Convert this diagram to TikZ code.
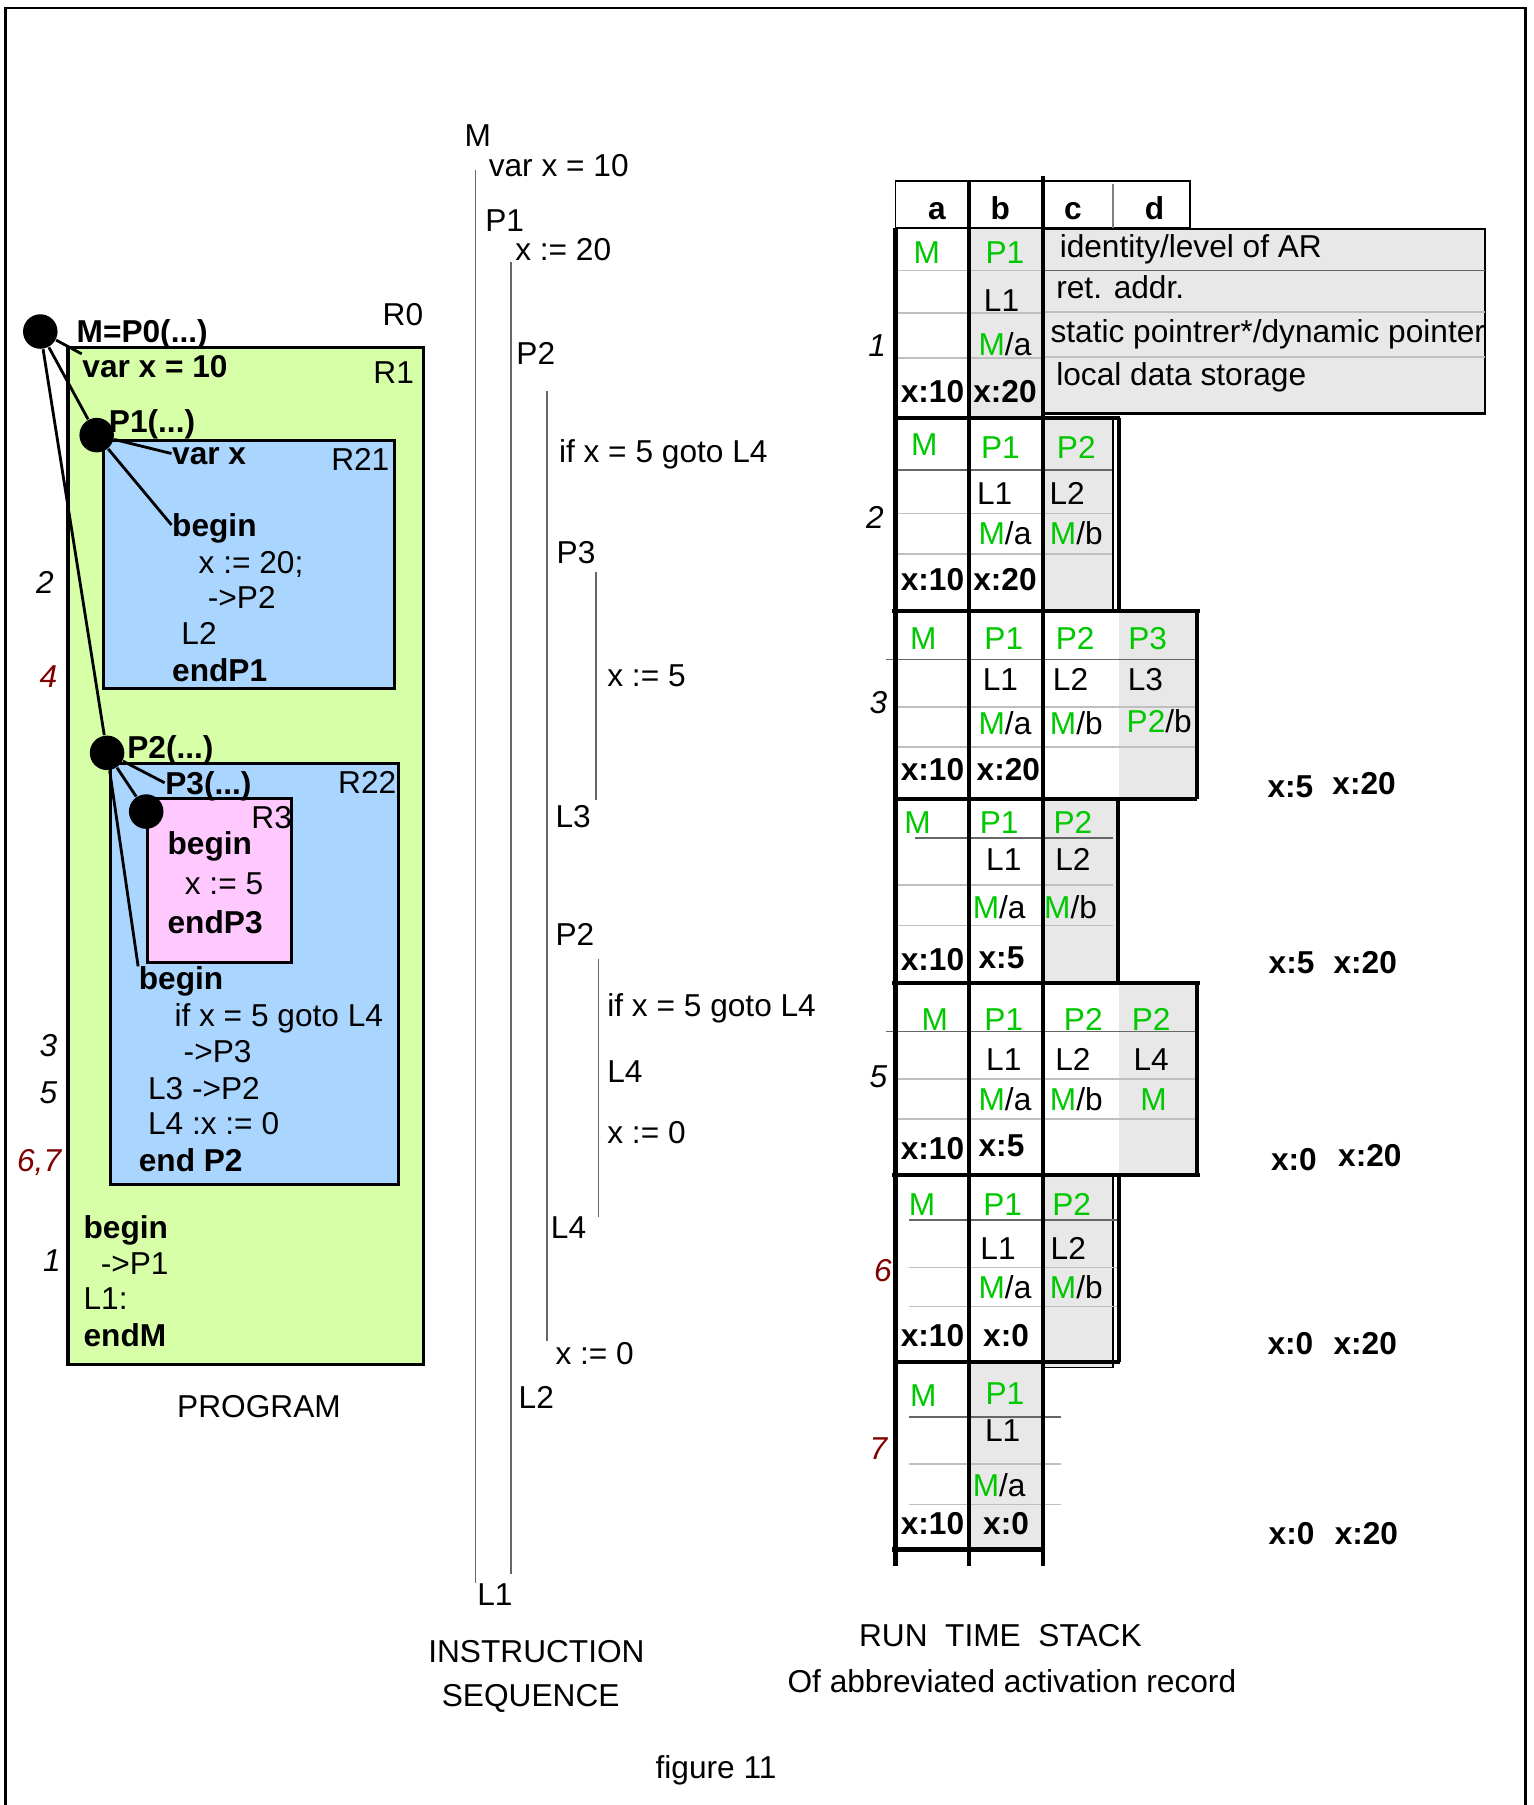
\documentclass[tikz,border=0pt]{standalone}
\usepackage{fontspec}
\setmainfont{Liberation Sans}
\usepackage{xcolor}
\usepackage{tikz}
\usetikzlibrary{positioning}
\definecolor{progreen}{RGB}{214, 255, 168}
\definecolor{problue}{RGB}{170, 213, 255}
\definecolor{propink}{RGB}{255, 200, 255}
\definecolor{argreen}{RGB}{0, 200, 0}
\definecolor{argray}{RGB}{232, 232, 232}
\definecolor{stepred}{RGB}{128, 0, 0}

\begin{document}
\begin{tikzpicture}[
  x=0.0115cm, y=-0.0115cm,
  font=\fontsize{9}{11}\selectfont,
  txt/.style={anchor=west, inner sep=0pt, text height=6.5pt, text depth=0pt},
  kw/.style={txt, font=\fontsize{9}{11}\selectfont\bfseries},
  arcell/.style={inner sep=0pt, text height=6.5pt, text depth=0pt},
  gr/.style={arcell, text=argreen},
  val/.style={arcell, font=\fontsize{9}{11}\selectfont\bfseries},
  stepno/.style={arcell, font=\fontsize{9}{11}\selectfont\itshape},
  procdot/.style={circle, fill=black, inner sep=0pt, minimum size=0.345cm},
  region/.style={draw, line width=0.9pt},
  link/.style={line width=0.8pt},
  seqline/.style={line width=0.5pt, black!60},
  recline/.style={line width=1.2pt},
  rowline/.style={line width=0.5pt, black!25},
  rowfirst/.style={line width=0.5pt, black!60}
]
\useasboundingbox (0,0) rectangle (1332,1568);
\draw[line width=0.8pt] (5,1568) -- (5,7) -- (1325,7) -- (1325,1568);

% program
\draw[region, fill=progreen] (59,302) rectangle (368,1185);
\draw[region, fill=problue] (90,383) rectangle (343,598);
\draw[region, fill=problue] (96,663) rectangle (346,1029);
\draw[region, fill=propink] (128,694) rectangle (253,836);

\node[arcell] (r0) at (350,273) {R0};
\node[arcell] (r1) at (342,323) {R1};
\node[arcell] (r21) at (313,399) {R21};
\node[arcell] (r22) at (319,679) {R22};
\node[arcell] (r3) at (236,710) {R3};

\node[kw] (mhead) at (66,288) {M=P0(...)};
\node[kw] (mvar) at (71,318) {var x = 10};
\node[kw] (p1head) at (94,366) {P1(...)};
\node[kw] (p1var) at (149,394) {var x};
\node[kw] (p1begin) at (149,456) {begin};
\node[txt] (p1x) at (172,488) {x := 20;};
\node[txt] (p1call) at (180,519) {->P2};
\node[txt] (p1l2) at (157,550) {L2};
\node[kw] (p1end) at (149,582) {endP1};

\node[kw] (p2head) at (110,649) {P2(...)};
\node[kw] (p3head) at (143,680) {P3(...)};
\node[kw] (p3begin) at (145,732) {begin};
\node[txt] (p3x) at (160,767) {x := 5};
\node[kw] (p3end) at (145,801) {endP3};
\node[kw] (p2begin) at (120,850) {begin};
\node[txt] (p2if) at (151,882) {if x = 5 goto L4};
\node[txt] (p2call) at (159,913) {->P3};
\node[txt] (p2l3) at (128,945) {L3 ->P2};
\node[txt] (p2l4) at (128,976) {L4 :x := 0};
\node[kw] (p2end) at (120,1008) {end P2};

\node[kw] (mbegin) at (72,1066) {begin};
\node[txt] (mcall) at (87,1097) {->P1};
\node[txt] (ml1) at (72,1128) {L1:};
\node[kw] (mend) at (72,1160) {endM};

\node[stepno] (pn2) at (39,506) {2};
\node[stepno, text=stepred] (pn4) at (42,587) {4};
\node[stepno] (pn3) at (42,908) {3};
\node[stepno] (pn5) at (42,949) {5};
\node[stepno, text=stepred] (pn67) at (34,1008) {6,7};
\node[stepno] (pn1) at (45,1095) {1};

\node[procdot] (mdot) at (35,288) {};
\node[procdot] (p1dot) at (84,378) {};
\node[procdot] (p2dot) at (93,654) {};
\node[procdot] (p3dot) at (127,705) {};

\draw[link] (mdot) -- (mvar.north west);
\draw[link] (mdot) -- (p1dot);
\draw[link] (mdot) -- (p2dot);
\draw[link] (p1dot) -- (p1var.west);
\draw[link] (p1dot) -- (p1begin.west);
\draw[link] (p2dot) -- (p3head.west);
\draw[link] (p2dot) -- (p3dot);
\draw[link] (p2dot) -- (p2begin.north west);

\node (progcap) at (225,1222) {PROGRAM};

% instruction sequence
\draw[seqline] (413,148) -- (413,1375);
\draw[seqline] (444,228) -- (444,1367);
\draw[seqline] (475,340) -- (475,1165);
\draw[seqline] (518,497) -- (518,695);
\draw[seqline] (520,833) -- (520,1057);

\node[txt] (sm) at (403,117) {M};
\node[txt] (svar) at (424,143) {var x = 10};
\node[txt] (sp1) at (421,191) {P1};
\node[txt] (sx20) at (447,216) {x := 20};
\node[txt] (sp2) at (448,307) {P2};
\node[txt] (sif) at (485,392) {if x = 5 goto L4};
\node[txt] (sp3) at (483,480) {P3};
\node[txt] (sx5) at (527,586) {x := 5};
\node[txt] (sl3) at (482,709) {L3};
\node[txt] (sp2b) at (482,811) {P2};
\node[txt] (sifb) at (527,873) {if x = 5 goto L4};
\node[txt] (sl4) at (527,930) {L4};
\node[txt] (sx0) at (527,983) {x := 0};
\node[txt] (sl4b) at (478,1066) {L4};
\node[txt] (sx0b) at (482,1175) {x := 0};
\node[txt] (sl2) at (450,1214) {L2};
\node[txt] (sl1) at (414,1385) {L1};

\node (seqcap) at (466,1435) {INSTRUCTION};
\node (seqcap2) at (461,1475) {SEQUENCE};

% run time stack
\fill[argray] (842,198) rectangle (906,362);
\draw[line width=0.8pt, fill=argray] (906,199) rectangle (1290,359);
\fill[argray] (906,363) rectangle (967,531);
\fill[argray] (972,531) rectangle (1040,694);
\fill[argray] (906,694) rectangle (970,854);
\fill[argray] (972,854) rectangle (1040,1021);
\draw[line width=0.5pt, fill=argray] (906,1020) rectangle (967,1188);
\fill[argray] (842,1183) rectangle (906,1346);

\draw[line width=0.5pt] (778,198) -- (778,157) -- (1034,157) -- (1034,198) -- (778,198);
\draw[line width=0.5pt, black!50] (967,160) -- (967,198);
\node[val] (ha) at (814,181) {a};
\node[val] (hb) at (869,181) {b};
\node[val] (hc) at (932,181) {c};
\node[val] (hd) at (1003,181) {d};

\draw[rowline] (778,235) -- (906,235);
\draw[rowline] (778,272) -- (906,272);
\draw[rowline] (778,311) -- (906,311);
\draw[rowfirst] (906,235) -- (1290,235);
\draw[rowline] (906,271) -- (1290,271);
\draw[rowline] (906,310) -- (1290,310);
\draw[rowfirst] (778,408) -- (967,408);
\draw[rowline] (778,446) -- (967,446);
\draw[rowline] (778,481) -- (967,481);
\draw[rowfirst] (770,573) -- (1040,573);
\draw[rowline] (778,614) -- (1040,614);
\draw[rowline] (778,649) -- (1040,649);
\draw[rowfirst] (795,728) -- (967,728);
\draw[rowline] (778,769) -- (967,769);
\draw[rowline] (778,804) -- (967,804);
\draw[rowfirst] (770,896) -- (1040,896);
\draw[rowline] (778,937) -- (1040,937);
\draw[rowline] (778,972) -- (1040,972);
\draw[rowfirst] (790,1060) -- (972,1060);
\draw[rowline] (790,1101) -- (972,1101);
\draw[rowline] (790,1135) -- (972,1135);
\draw[rowfirst] (790,1231) -- (922,1231);
\draw[rowline] (790,1272) -- (922,1272);
\draw[rowline] (790,1307) -- (922,1307);

\draw[recline] (778,198) -- (778,1360);
\draw[recline] (842,157) -- (842,1360);
\draw[recline] (906,153) -- (906,1360);
\draw[recline] (778,363) -- (973,363);
\draw[line width=0.5pt] (967,363) -- (967,531);
\draw[recline] (972,363) -- (972,531);
\draw[recline] (775,531) -- (1042,531);
\draw[recline] (1040,531) -- (1040,694);
\draw[recline] (778,694) -- (1040,694);
\draw[recline] (971,694) -- (971,854);
\draw[recline] (775,854) -- (1042,854);
\draw[recline] (1040,854) -- (1040,1021);
\draw[recline] (775,1021) -- (1042,1021);
\draw[recline] (972,1020) -- (972,1183);
\draw[recline] (778,1183) -- (973,1183);
\draw[recline] (775,1346) -- (906,1346);

\node[txt] (leg1) at (920,214) {identity/level of AR};
\node[txt] (leg2) at (917,249) {ret. addr.};
\node[txt] (leg3) at (912,288) {static pointrer*/dynamic pointer};
\node[txt] (leg4) at (917,325) {local data storage};

\node[gr] (a1m) at (805,219) {M};
\node[gr] (a1p1) at (873,219) {P1};
\node[arcell] (a1l1) at (870,261) {L1};
\node[arcell] (a1ma) at (873,299) {\textcolor{argreen}{M}/a};
\node[val] (a1xa) at (810,340) {x:10};
\node[val] (a1xb) at (873,340) {x:20};

\node[gr] (a2m) at (803,386) {M};
\node[gr] (a2p1) at (869,388) {P1};
\node[gr] (a2p2) at (935,388) {P2};
\node[arcell] (a2l1) at (864,428) {L1};
\node[arcell] (a2l2) at (927,428) {L2};
\node[arcell] (a2ma) at (873,463) {\textcolor{argreen}{M}/a};
\node[arcell] (a2mb) at (935,463) {\textcolor{argreen}{M}/b};
\node[val] (a2xa) at (810,503) {x:10};
\node[val] (a2xb) at (873,503) {x:20};

\node[gr] (a3m) at (802,554) {M};
\node[gr] (a3p1) at (872,554) {P1};
\node[gr] (a3p2) at (934,554) {P2};
\node[gr] (a3p3) at (997,554) {P3};
\node[arcell] (a3l1) at (869,590) {L1};
\node[arcell] (a3l2) at (930,590) {L2};
\node[arcell] (a3l3) at (995,590) {L3};
\node[arcell] (a3ma) at (873,628) {\textcolor{argreen}{M}/a};
\node[arcell] (a3mb) at (935,628) {\textcolor{argreen}{M}/b};
\node[arcell] (a3pb) at (1007,626) {\textcolor{argreen}{P2}/b};
\node[val] (a3xa) at (810,668) {x:10};
\node[val] (a3xb) at (876,668) {x:20};

\node[gr] (a4m) at (797,714) {M};
\node[gr] (a4p1) at (868,714) {P1};
\node[gr] (a4p2) at (932,714) {P2};
\node[arcell] (a4l1) at (872,746) {L1};
\node[arcell] (a4l2) at (932,746) {L2};
\node[arcell] (a4ma) at (868,788) {\textcolor{argreen}{M}/a};
\node[arcell] (a4mb) at (930,788) {\textcolor{argreen}{M}/b};
\node[val] (a4xa) at (810,833) {x:10};
\node[val] (a4xb) at (870,831) {x:5};

\node[gr] (a5m) at (812,885) {M};
\node[gr] (a5p1) at (872,885) {P1};
\node[gr] (a5p2) at (941,885) {P2};
\node[gr] (a5p2d) at (1000,885) {P2};
\node[arcell] (a5l1) at (872,920) {L1};
\node[arcell] (a5l2) at (932,920) {L2};
\node[arcell] (a5l4) at (1000,920) {L4};
\node[arcell] (a5ma) at (873,955) {\textcolor{argreen}{M}/a};
\node[arcell] (a5mb) at (935,955) {\textcolor{argreen}{M}/b};
\node[gr] (a5md) at (1002,955) {M};
\node[val] (a5xa) at (810,997) {x:10};
\node[val] (a5xb) at (870,995) {x:5};

\node[gr] (a6m) at (801,1046) {M};
\node[gr] (a6p1) at (871,1046) {P1};
\node[gr] (a6p2) at (931,1046) {P2};
\node[arcell] (a6l1) at (867,1084) {L1};
\node[arcell] (a6l2) at (928,1084) {L2};
\node[arcell] (a6ma) at (873,1118) {\textcolor{argreen}{M}/a};
\node[arcell] (a6mb) at (935,1118) {\textcolor{argreen}{M}/b};
\node[val] (a6xa) at (810,1160) {x:10};
\node[val] (a6xb) at (874,1160) {x:0};

\node[gr] (a7m) at (802,1212) {M};
\node[gr] (a7p1) at (873,1210) {P1};
\node[arcell] (a7l1) at (871,1242) {L1};
\node[arcell] (a7ma) at (868,1290) {\textcolor{argreen}{M}/a};
\node[val] (a7xa) at (810,1323) {x:10};
\node[val] (a7xb) at (874,1323) {x:0};

\node[stepno] (sn1) at (762,300) {1};
\node[stepno] (sn2) at (760,449) {2};
\node[stepno] (sn3) at (763,610) {3};
\node[stepno] (sn5) at (763,935) {5};
\node[stepno, text=stepred] (sn6) at (767,1103) {6};
\node[stepno, text=stepred] (sn7) at (763,1258) {7};

\node[val] (g3a) at (1121,683) {x:5};
\node[val] (g3b) at (1185,680) {x:20};
\node[val] (g4a) at (1122,836) {x:5};
\node[val] (g4b) at (1186,836) {x:20};
\node[val] (g5a) at (1124,1007) {x:0};
\node[val] (g5b) at (1190,1003) {x:20};
\node[val] (g6a) at (1121,1167) {x:0};
\node[val] (g6b) at (1186,1167) {x:20};
\node[val] (g7a) at (1122,1332) {x:0};
\node[val] (g7b) at (1187,1332) {x:20};

\node (stackcap) at (869,1421) {RUN\ \ TIME\ \ STACK};
\node (stackcap2) at (879,1460) {Of abbreviated activation record};
\node (figcap) at (622,1538) {figure 11};

\end{tikzpicture}
\end{document}
